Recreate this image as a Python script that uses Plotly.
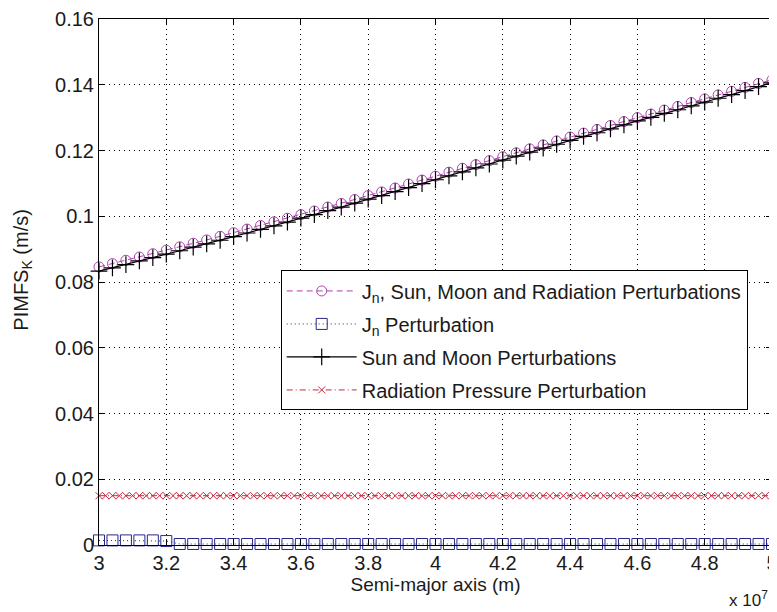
import plotly.graph_objects as go

# Semi-major axis in units of 1e7 m
a_main = [3.00, 3.04, 3.08, 3.12, 3.16, 3.20, 3.24, 3.28, 3.32, 3.36,
          3.40, 3.44, 3.48, 3.52, 3.56, 3.60, 3.64, 3.68, 3.72, 3.76,
          3.80, 3.84, 3.88, 3.92, 3.96, 4.00, 4.04, 4.08, 4.12, 4.16,
          4.20, 4.24, 4.28, 4.32, 4.36, 4.40, 4.44, 4.48, 4.52, 4.56,
          4.60, 4.64, 4.68, 4.72, 4.76, 4.80, 4.84, 4.88, 4.92, 4.96, 5.00]

sun_moon = [0.0833, 0.0843, 0.0853, 0.0864, 0.0874, 0.0885, 0.0895, 0.0906, 0.0916, 0.0927,
            0.0938, 0.0949, 0.0960, 0.0971, 0.0982, 0.0994, 0.1005, 0.1017, 0.1028, 0.1040,
            0.1052, 0.1063, 0.1075, 0.1087, 0.1099, 0.1111, 0.1123, 0.1135, 0.1147, 0.1159,
            0.1171, 0.1183, 0.1195, 0.1207, 0.1219, 0.1231, 0.1243, 0.1254, 0.1266, 0.1278,
            0.1290, 0.1301, 0.1313, 0.1324, 0.1336, 0.1347, 0.1359, 0.1370, 0.1382, 0.1394, 0.1406]

all_pert = [0.0846, 0.0856, 0.0866, 0.0876, 0.0886, 0.0897, 0.0907, 0.0918, 0.0928, 0.0939,
            0.0950, 0.0961, 0.0972, 0.0983, 0.0994, 0.1005, 0.1016, 0.1028, 0.1039, 0.1051,
            0.1063, 0.1074, 0.1086, 0.1098, 0.1110, 0.1122, 0.1134, 0.1146, 0.1157, 0.1169,
            0.1181, 0.1193, 0.1205, 0.1217, 0.1229, 0.1241, 0.1253, 0.1264, 0.1276, 0.1288,
            0.1300, 0.1311, 0.1323, 0.1334, 0.1346, 0.1357, 0.1369, 0.1380, 0.1392, 0.1404, 0.1415]

jn_only = [0.0014, 0.0014, 0.0014, 0.0014, 0.0014, 0.0012, 0.0003, 0.0003, 0.0003, 0.0003,
           0.0003, 0.0003, 0.0003, 0.0003, 0.0003, 0.0003, 0.0003, 0.0003, 0.0003, 0.0003,
           0.0003, 0.0003, 0.0003, 0.0003, 0.0003, 0.0003, 0.0003, 0.0003, 0.0003, 0.0003,
           0.0003, 0.0003, 0.0003, 0.0003, 0.0003, 0.0003, 0.0003, 0.0003, 0.0003, 0.0003,
           0.0003, 0.0003, 0.0003, 0.0003, 0.0003, 0.0003, 0.0003, 0.0003, 0.0003, 0.0003, 0.0003]

a_rad = [3.00, 3.02, 3.04, 3.06, 3.08, 3.10, 3.12, 3.14, 3.16, 3.18,
         3.20, 3.22, 3.24, 3.26, 3.28, 3.30, 3.32, 3.34, 3.36, 3.38,
         3.40, 3.42, 3.44, 3.46, 3.48, 3.50, 3.52, 3.54, 3.56, 3.58,
         3.60, 3.62, 3.64, 3.66, 3.68, 3.70, 3.72, 3.74, 3.76, 3.78,
         3.80, 3.82, 3.84, 3.86, 3.88, 3.90, 3.92, 3.94, 3.96, 3.98,
         4.00, 4.02, 4.04, 4.06, 4.08, 4.10, 4.12, 4.14, 4.16, 4.18,
         4.20, 4.22, 4.24, 4.26, 4.28, 4.30, 4.32, 4.34, 4.36, 4.38,
         4.40, 4.42, 4.44, 4.46, 4.48, 4.50, 4.52, 4.54, 4.56, 4.58,
         4.60, 4.62, 4.64, 4.66, 4.68, 4.70, 4.72, 4.74, 4.76, 4.78,
         4.80, 4.82, 4.84, 4.86, 4.88, 4.90, 4.92, 4.94, 4.96, 4.98, 5.00]
radiation = [0.0150] * len(a_rad)

x_ticks = [3, 3.2, 3.4, 3.6, 3.8, 4, 4.2, 4.4, 4.6, 4.8, 5]
x_ticktext = ["3", "3.2", "3.4", "3.6", "3.8", "4", "4.2", "4.4", "4.6", "4.8", "5"]
y_ticks = [0, 0.02, 0.04, 0.06, 0.08, 0.1, 0.12, 0.14, 0.16]
y_ticktext = ["0", "0.02", "0.04", "0.06", "0.08", "0.1", "0.12", "0.14", "0.16"]

FONT = "Liberation Sans, Arial, Helvetica, sans-serif"
TXT = "#1a1a1a"

fig = go.Figure()
fig.add_trace(go.Scatter(
    x=a_main, y=all_pert, mode="lines+markers", legendgroup="g1",
    name="J<sub>n</sub>, Sun, Moon and Radiation Perturbations",
    line=dict(color="#B040B0", width=1, dash="6px,4px"),
    marker=dict(symbol="circle-open", size=10, color="#B040B0", line=dict(width=1)),
    cliponaxis=False))
fig.add_trace(go.Scatter(
    x=a_main, y=jn_only, mode="lines+markers", legendgroup="g2",
    name="J<sub>n</sub> Perturbation",
    line=dict(color="#28288A", width=1, dash="1px,3px"),
    marker=dict(symbol="square-open", size=11, color="#28288A", line=dict(width=1)),
    cliponaxis=False))
fig.add_trace(go.Scatter(
    x=a_main, y=sun_moon, mode="lines+markers", legendgroup="g3",
    name="Sun and Moon Perturbations",
    line=dict(color="black", width=1.2),
    marker=dict(symbol="cross-thin-open", size=12, color="black", line=dict(width=1.2)),
    cliponaxis=False))
fig.add_trace(go.Scatter(
    x=a_rad, y=radiation, mode="lines+markers", legendgroup="g4",
    name="Radiation Pressure Perturbation",
    line=dict(color="#C8283C", width=1, dash="6px,3px,1px,3px"),
    marker=dict(symbol="x-thin-open", size=7, color="#C8283C", line=dict(width=1)),
    cliponaxis=False))

axis_common = dict(
    showline=True, linecolor="black", linewidth=1, mirror="ticks",
    ticks="inside", ticklen=6, tickcolor="black",
    showgrid=True, gridcolor="black", gridwidth=1, griddash="1px,4px",
    zeroline=False, tickfont=dict(family=FONT, size=20, color=TXT),
    ticklabeloverflow="allow", automargin=False,
)

fig.update_xaxes(range=[3, 5], tickvals=x_ticks, ticktext=x_ticktext,
                 title=dict(text="Semi-major axis (m)", font=dict(family=FONT, size=19, color=TXT), standoff=2),
                 **axis_common)
fig.update_yaxes(range=[0, 0.16], tickvals=y_ticks, ticktext=y_ticktext, **axis_common)

# y-axis label
fig.add_annotation(text="PIMFS<sub>K</sub> (m/s)", xref="paper", yref="paper",
                   x=-0.114, y=0.524, xanchor="center", yanchor="middle", textangle=-90,
                   showarrow=False, font=dict(family=FONT, size=20, color=TXT))

fig.add_annotation(text="x 10<sup>7</sup>", xref="paper", yref="paper",
                   x=0.965, y=-0.103, xanchor="center", yanchor="middle", showarrow=False,
                   font=dict(family=FONT, size=17, color=TXT))

# page body adds an 8px offset; figure sized to fit the 777x612 window
fig.update_layout(
    width=769, height=604,
    margin=dict(l=91, r=5, t=11, b=67),
    plot_bgcolor="white", paper_bgcolor="white",
    font=dict(family=FONT, size=19, color=TXT),
    legend=dict(x=0.27, y=0.522, xanchor="left", yanchor="top",
                bgcolor="white", bordercolor="black", borderwidth=1,
                font=dict(family=FONT, size=20, color=TXT),
                tracegroupgap=4, itemwidth=70),
    showlegend=True,
)

fig.write_html("out.html")
